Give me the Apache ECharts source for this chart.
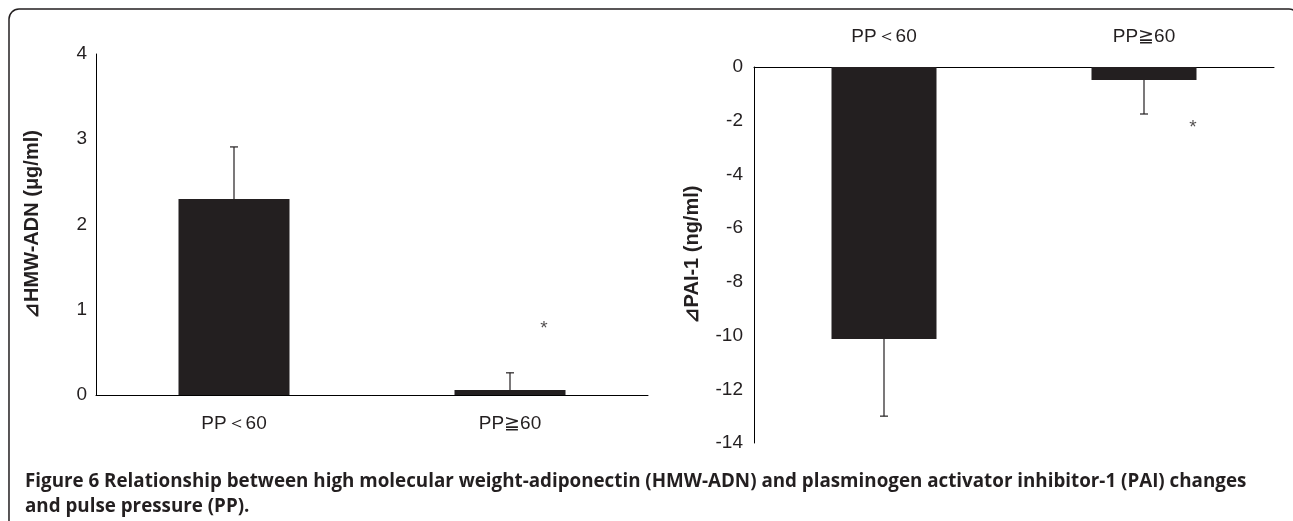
<!DOCTYPE html>
<html>
<head>
<meta charset="utf-8">
<script src="https://cdn.jsdelivr.net/npm/echarts@6/dist/echarts.min.js"></script>
<style>
  html, body { margin: 0; padding: 0; background: #fff; }
  #main { width: 1293px; height: 521px; }
</style>
</head>
<body>
<div id="main"></div>
<script>
// 数据
const categories = ['PP＜60', 'PP≧60'];
const adnMean = [2.3, 0.06];
const adnErrEnd = [2.91, 0.26];
const paiMean = [-10.13, -0.48];
const paiErrEnd = [-13.0, -1.75];
const adnStar = [[1, 0.78]];
const paiStar = [[1, -2.28]];

const ink = '#231f20';
const tickFont = { fontFamily: 'Liberation Sans', fontSize: 19, color: '#231f20' };
const catFont = { fontFamily: 'Liberation Sans', fontSize: 19, color: '#231f20' };
const nameFont = { fontFamily: 'Liberation Sans', fontWeight: 'bold', fontSize: 20, color: ink };

function errorItem(params, api) {
  const x = api.value(0);
  const p0 = api.coord([x, api.value(1)]);
  const p1 = api.coord([x, api.value(2)]);
  const st = { stroke: ink, lineWidth: 1.2 };
  return {
    type: 'group',
    children: [
      { type: 'line', shape: { x1: p0[0], y1: p0[1], x2: p1[0], y2: p1[1] }, style: st },
      { type: 'line', shape: { x1: p1[0] - 4, y1: p1[1], x2: p1[0] + 4, y2: p1[1] }, style: st }
    ]
  };
}

var myChart = echarts.init(document.getElementById('main'));

var option = {
  animation: false,
  grid: [
    { left: 96, top: 54, width: 552, height: 341 },
    { left: 754, top: 67, width: 520, height: 376 }
  ],
  xAxis: [
    {
      gridIndex: 0, type: 'category', data: categories,
      axisLine: { lineStyle: { color: '#000', width: 1 } },
      axisTick: { show: false },
      axisLabel: Object.assign({ margin: 19 }, catFont)
    },
    {
      gridIndex: 1, type: 'category', data: categories, position: 'top',
      axisLine: { lineStyle: { color: '#000', width: 1 } },
      axisTick: { show: false },
      axisLabel: Object.assign({ margin: 21 }, catFont)
    }
  ],
  yAxis: [
    {
      gridIndex: 0, type: 'value', min: 0, max: 4, interval: 1,
      name: '⊿HMW-ADN (μg/ml)', nameLocation: 'middle', nameGap: 54,
      nameTextStyle: nameFont,
      axisLine: { show: true, lineStyle: { color: '#000', width: 1 } },
      axisTick: { show: false },
      splitLine: { show: false },
      axisLabel: Object.assign({ margin: 9 }, tickFont)
    },
    {
      gridIndex: 1, type: 'value', min: -14, max: 0, interval: 2,
      name: '⊿PAI-1 (ng/ml)', nameLocation: 'middle', nameGap: 52,
      nameTextStyle: nameFont,
      axisLine: { show: true, lineStyle: { color: '#000', width: 1 } },
      axisTick: { show: false },
      splitLine: { show: false },
      axisLabel: Object.assign({ margin: 11 }, tickFont)
    }
  ],
  series: [
    {
      type: 'bar', xAxisIndex: 0, yAxisIndex: 0, data: adnMean,
      barWidth: 111, itemStyle: { color: ink }
    },
    {
      type: 'bar', xAxisIndex: 1, yAxisIndex: 1, data: paiMean,
      barWidth: 105, itemStyle: { color: ink }
    },
    {
      type: 'custom', xAxisIndex: 0, yAxisIndex: 0, renderItem: errorItem,
      encode: { x: 0, y: [1, 2] }, z: 5,
      data: categories.map((c, i) => [i, adnMean[i], adnErrEnd[i]])
    },
    {
      type: 'custom', xAxisIndex: 1, yAxisIndex: 1, renderItem: errorItem,
      encode: { x: 0, y: [1, 2] }, z: 5,
      data: categories.map((c, i) => [i, paiMean[i], paiErrEnd[i]])
    },
    {
      type: 'scatter', xAxisIndex: 0, yAxisIndex: 0, data: adnStar,
      symbolSize: 0,
      label: { show: true, formatter: '*', position: 'inside', offset: [34, 0],
        fontFamily: 'Liberation Sans', fontSize: 19, color: ink }
    },
    {
      type: 'scatter', xAxisIndex: 1, yAxisIndex: 1, data: paiStar,
      symbolSize: 0,
      label: { show: true, formatter: '*', position: 'inside', offset: [49, 0],
        fontFamily: 'Liberation Sans', fontSize: 19, color: ink }
    }
  ],
  graphic: [
    {
      type: 'rect', silent: true,
      shape: { x: 9, y: 9, width: 1290, height: 600, r: 10 },
      style: { fill: 'none', stroke: ink, lineWidth: 1.5 }
    },
    {
      type: 'text', left: 25, top: 469,
      style: {
        text: 'Figure 6 Relationship between high molecular weight-adiponectin (HMW-ADN) and plasminogen activator inhibitor-1 (PAI) changes\nand pulse pressure (PP).',
        fontFamily: 'Open Sans', fontWeight: 'bold', fontSize: 18.8, lineHeight: 25, fill: ink
      }
    }
  ]
};

myChart.setOption(option);
</script>
</body>
</html>
